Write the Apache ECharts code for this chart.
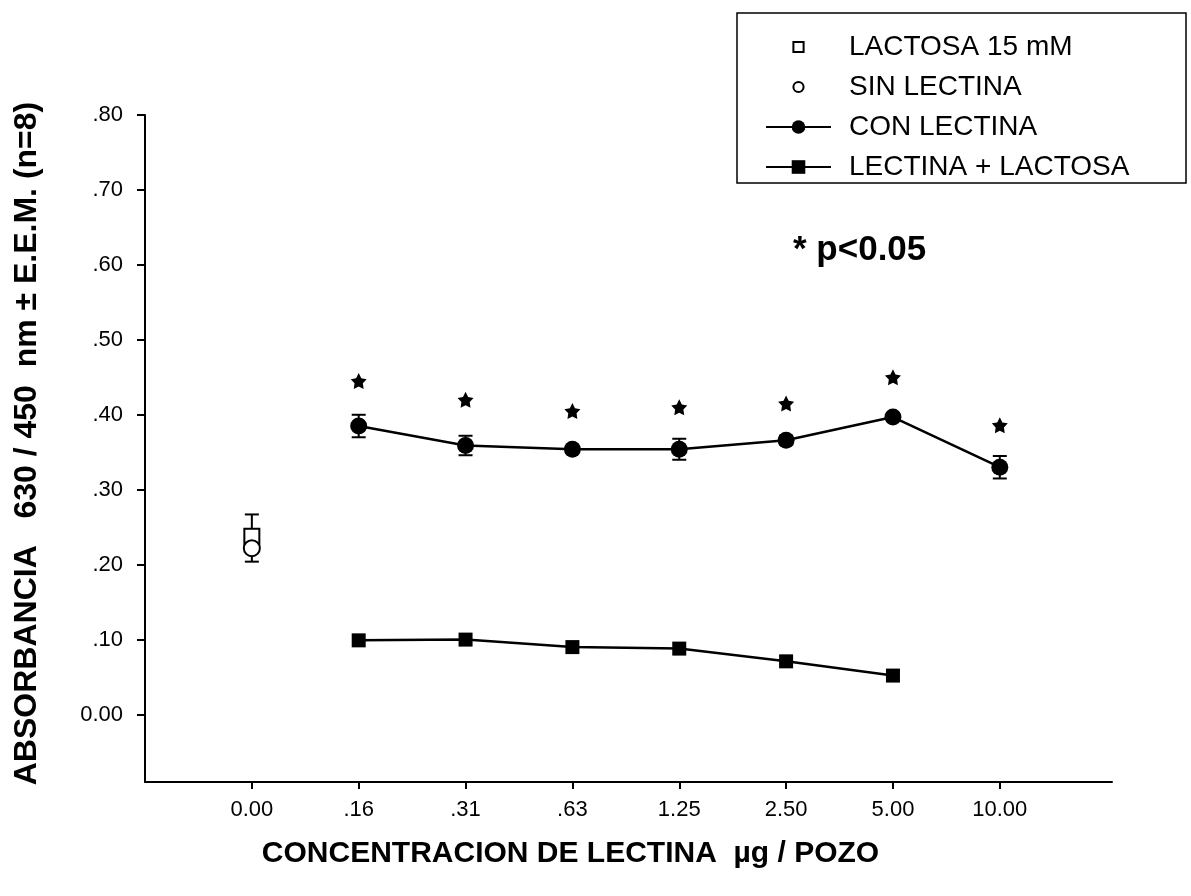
<!DOCTYPE html>
<html>
<head>
<meta charset="utf-8">
<title>Absorbancia vs concentracion de lectina</title>
<script src="https://cdn.jsdelivr.net/npm/echarts@6/dist/echarts.min.js"></script>
<style>
  html, body { margin: 0; padding: 0; background: #fff; }
  #chart { width: 1191px; height: 896px; }
</style>
</head>
<body>
<div id="chart"></div>
<script>
// etiquetas del eje X (posiciones 0..7)
var xLabels = ['0.00', '.16', '.31', '.63', '1.25', '2.50', '5.00', '10.00'];
var yTickValues = [0, 0.1, 0.2, 0.3, 0.4, 0.5, 0.6, 0.7, 0.8];

// control (solo en 0.00)
var lactosaVal = 0.238, lactosaErr = 0.029;
var sinLectinaVal = 0.222, sinLectinaErr = 0.018;

// con lectina: .16 .. 10.00
var conLectina = [0.385, 0.359, 0.354, 0.354, 0.366, 0.397, 0.330];
var conLectinaErr = [0.015, 0.013, 0.004, 0.014, 0.006, 0.005, 0.015];
// lectina + lactosa: .16 .. 5.00
var lectinaLactosa = [0.099, 0.100, 0.090, 0.088, 0.071, 0.052];
// altura de los asteriscos (p<0.05)
var starLevels = [0.445, 0.420, 0.405, 0.410, 0.415, 0.450, 0.386];

var FONT = 'Liberation Sans, Arial, sans-serif';
var STAR = 'path://M50,0L65.3,29L97.6,34.5L74.7,58L79.4,90.5L50,76L20.6,90.5L25.3,58L2.4,34.5L34.7,29Z';
// iconos pequenos de la leyenda (el marco M0,0 M100,100 fija la caja)
var ICON_SQ = 'path://M0,0M100,100M20,20L80,20L80,80L20,80Z';
var ICON_CI = 'path://M0,0M100,100M50,20A30,30,0,1,1,49.9,20Z';

var conData = conLectina.map(function (v, i) { return [i + 1, v]; });
var lacData = lectinaLactosa.map(function (v, i) { return [i + 1, v]; });
var starData = starLevels.map(function (v, i) { return [i + 1, v]; });

var errData = conLectina.map(function (v, i) {
	return [i + 1, v - conLectinaErr[i], v + conLectinaErr[i]];
});
errData.push([0, lactosaVal, lactosaVal + lactosaErr]);
errData.push([0, sinLectinaVal - sinLectinaErr, sinLectinaVal]);

function renderErr(params, api) {
	var lo = api.coord([api.value(0), api.value(1)]);
	var hi = api.coord([api.value(0), api.value(2)]);
	var w = 7;
	var st = { stroke: '#000', lineWidth: 2 };
	return {
		type: 'group',
		children: [
			{ type: 'line', shape: { x1: lo[0], y1: lo[1], x2: hi[0], y2: hi[1] }, style: st },
			{ type: 'line', shape: { x1: lo[0] - w, y1: lo[1], x2: lo[0] + w, y2: lo[1] }, style: st },
			{ type: 'line', shape: { x1: hi[0] - w, y1: hi[1], x2: hi[0] + w, y2: hi[1] }, style: st }
		]
	};
}

var chart = echarts.init(document.getElementById('chart'));

var option = {
	backgroundColor: '#fff',
	animation: false,
	textStyle: { fontFamily: FONT, color: '#000' },
	title: {
		text: '* p<0.05',
		left: 788,
		top: 228,
		textStyle: { fontFamily: FONT, fontSize: 35, fontWeight: 'bold', color: '#000' }
	},
	// marco de la leyenda
	graphic: [{
		type: 'rect',
		shape: { x: 737, y: 13, width: 449, height: 170 },
		style: { fill: 'none', stroke: '#000', lineWidth: 1.5 },
		z: 10
	}],
	legend: {
		orient: 'vertical',
		left: 737,
		top: 13,
		padding: [20, 0, 0, 28],
		itemGap: 12,
		itemWidth: 65,
		itemHeight: 17,
		symbolKeepAspect: true,
		textStyle: { fontFamily: FONT, fontSize: 28, color: '#000', padding: [0, 0, 0, 13] },
		data: [
			{ name: 'LACTOSA 15 mM', icon: ICON_SQ },
			{ name: 'SIN LECTINA', icon: ICON_CI },
			'CON LECTINA',
			'LECTINA + LACTOSA'
		]
	},
	grid: { left: 145, right: 79, top: 115, bottom: 114 },
	xAxis: {
		type: 'value',
		min: -1,
		max: 8.05,
		name: 'CONCENTRACION DE LECTINA  \u00b5g / POZO',
		nameLocation: 'middle',
		nameGap: 57,
		nameTextStyle: { fontFamily: FONT, fontSize: 30, fontWeight: 'bold', color: '#000', padding: [0, 116, 0, 0] },
		splitLine: { show: false },
		axisLine: { onZero: false, lineStyle: { color: '#000', width: 2 } },
		axisTick: { length: 7, lineStyle: { color: '#000', width: 2 }, customValues: [0, 1, 2, 3, 4, 5, 6, 7] },
		axisLabel: {
			customValues: [0, 1, 2, 3, 4, 5, 6, 7],
			margin: 17,
			fontSize: 22,
			color: '#000',
			formatter: function (v) { return xLabels[Math.round(v)]; }
		}
	},
	yAxis: {
		type: 'value',
		min: -0.09,
		max: 0.8,
		name: 'ABSORBANCIA   630 / 450  nm \u00b1 E.E.M. (n=8)',
		nameLocation: 'middle',
		nameGap: 102,
		nameTextStyle: { fontFamily: FONT, fontSize: 32, fontWeight: 'bold', color: '#000', padding: [0, 0, 0, 10] },
		splitLine: { show: false },
		axisLine: { show: true, onZero: false, lineStyle: { color: '#000', width: 2 } },
		axisTick: { show: true, length: 8, lineStyle: { color: '#000', width: 2 }, customValues: yTickValues },
		axisLabel: {
			customValues: yTickValues,
			margin: 22,
			fontSize: 22,
			color: '#000',
			formatter: function (v) {
				return v === 0 ? '0.00' : v.toFixed(2).replace(/^0/, '');
			}
		}
	},
	series: [
		{
			type: 'custom',
			name: 'err',
			renderItem: renderErr,
			data: errData,
			encode: { x: 0, y: [1, 2] },
			z: 1,
			silent: true
		},
		{
			name: 'LACTOSA 15 mM',
			type: 'scatter',
			symbol: 'rect',
			symbolSize: 15,
			itemStyle: { color: '#fff', borderColor: '#000', borderWidth: 2, opacity: 1 },
			data: [[0, lactosaVal]],
			z: 3
		},
		{
			name: 'SIN LECTINA',
			type: 'scatter',
			symbol: 'circle',
			symbolSize: 16,
			itemStyle: { color: '#fff', borderColor: '#000', borderWidth: 2, opacity: 1 },
			data: [[0, sinLectinaVal]],
			z: 4
		},
		{
			name: 'CON LECTINA',
			type: 'line',
			symbol: 'circle',
			symbolSize: 17,
			showAllSymbol: true,
			lineStyle: { color: '#000', width: 2.5 },
			itemStyle: { color: '#000' },
			data: conData,
			z: 3
		},
		{
			name: 'LECTINA + LACTOSA',
			type: 'line',
			symbol: 'rect',
			symbolSize: 14,
			showAllSymbol: true,
			lineStyle: { color: '#000', width: 2.5 },
			itemStyle: { color: '#000' },
			data: lacData,
			z: 3
		},
		{
			name: 'p',
			type: 'scatter',
			symbol: STAR,
			symbolSize: 16,
			itemStyle: { color: '#000', opacity: 1 },
			data: starData,
			z: 3,
			silent: true
		}
	]
};

chart.setOption(option);
</script>
</body>
</html>
